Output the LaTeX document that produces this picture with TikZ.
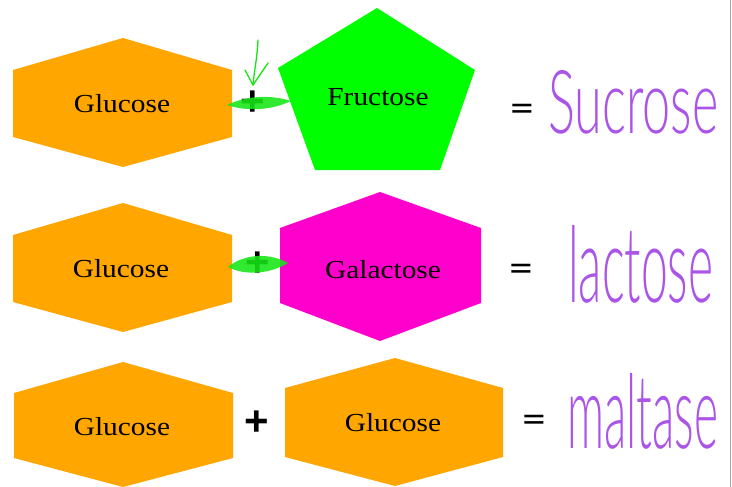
\documentclass[tikz,border=0pt]{standalone}
\usepackage{fontspec}
\setmainfont{Liberation Serif}
\newfontfamily\lblfont[FakeStretch=1.13]{Liberation Serif}
\newfontfamily\symfont{Liberation Sans}
\newfontfamily\handfont{Lato Light}
\definecolor{glucoseorange}{RGB}{255,166,0}
\definecolor{fructgreen}{RGB}{0,255,0}
\definecolor{galpink}{RGB}{255,0,204}
\definecolor{penpurple}{RGB}{170,85,232}
\definecolor{pengreen}{RGB}{20,230,20}
\tikzset{
  sugarlabel/.style={inner sep=0pt, font=\lblfont\fontsize{26}{26}\selectfont, text=black},
  plussign/.style={inner sep=0pt, font=\symfont\bfseries\fontsize{42}{42}\selectfont},
  eqsign/.style={inner sep=0pt},
  handword/.style={inner sep=0pt, anchor=base west, text=penpurple},
  swoosh/.style={fill=pengreen, opacity=0.88},
  arrowpen/.style={draw=pengreen, line width=1.3pt, line cap=round, line join=round}
}
\newcommand{\eqglyph}{\scalebox{1}[0.62]{\symfont\bfseries\fontsize{38}{38}\selectfont =}}
\begin{document}
\begin{tikzpicture}[x=1pt,y=-1pt]
\useasboundingbox (0,0) rectangle (732,487);
\fill[white] (0,0) rectangle (732,487);
\draw[gray!70, line width=1.2pt] (730.5,0) -- (730.5,487);

% row 1
\fill[glucoseorange] (13,70) -- (123,38) -- (232,70) -- (232,137) -- (123,167) -- (13,137) -- cycle;
\node[sugarlabel] (glu1) at (122,104) {Glucose};
\fill[fructgreen] (377,8) -- (475,70) -- (440,170) -- (315,170) -- (278,68) -- cycle;
\node[sugarlabel] (fru) at (378,97) {Fructose};
\node[plussign] (plus1) at (253,103) {+};
\fill[swoosh] (227,105) .. controls (248,95) and (272,95) .. (291,101)
  .. controls (272,110) and (248,112) .. (227,105) -- cycle;
\coordinate (arrtail) at (258,40);
\coordinate (arrtip) at (253,85);
\coordinate (arrl) at (245,70);
\coordinate (arrr) at (268,63);
\draw[arrowpen] (arrtail) .. controls (257,60) and (254,72) .. (arrtip);
\draw[arrowpen] (arrl) -- (arrtip) -- (arrr);
\node[eqsign] (eq1) at (522,110) {\eqglyph};
\node[handword] (sucrose) at (548,133) {\resizebox{170pt}{63pt}{\handfont Sucrose}};

% row 2
\fill[glucoseorange] (13,235) -- (123,203) -- (232,235) -- (232,302) -- (123,332) -- (13,302) -- cycle;
\node[sugarlabel] (glu2) at (121,269) {Glucose};
\fill[galpink] (280,228) -- (380,192) -- (481,228) -- (481,303) -- (380,341) -- (280,303) -- cycle;
\node[sugarlabel] (gal) at (383,270) {Galactose};
\node[plussign] (plus2) at (258,264) {+};
\fill[swoosh] (228,267) .. controls (245,253) and (270,253) .. (288,263)
  .. controls (270,274) and (245,276) .. (228,267) -- cycle;
\node[eqsign] (eq2) at (521,270) {\eqglyph};
\node[handword] (lactose) at (568,302) {\resizebox{145pt}{77pt}{\handfont lactose}};

% row 3
\fill[glucoseorange] (14,393) -- (123,362) -- (233,393) -- (233,458) -- (123,487) -- (14,458) -- cycle;
\node[sugarlabel] (glu3) at (122,427) {Glucose};
\fill[glucoseorange] (285,388) -- (395,358) -- (503,388) -- (503,457) -- (395,486) -- (285,457) -- cycle;
\node[sugarlabel] (glu4) at (393,423) {Glucose};
\node[plussign] (plus3) at (257,423) {+};
\node[eqsign] (eq3) at (534,421) {\eqglyph};
\node[handword] (maltase) at (567,448) {\resizebox{151pt}{75pt}{\handfont maltase}};
\end{tikzpicture}
\end{document}
